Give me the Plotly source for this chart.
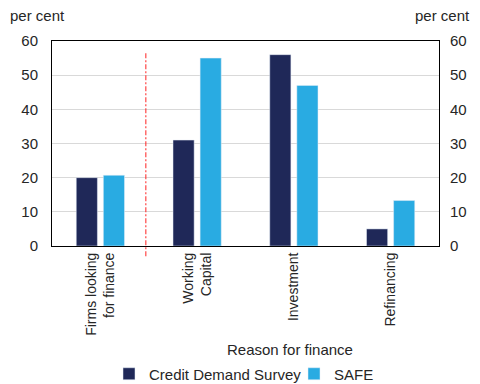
import plotly.graph_objects as go

categories = ["Firms looking<br>for finance", "Working<br>Capital", "Investment", "Refinancing"]
cds = [20, 31, 56, 5]
safe = [20.7, 55, 47, 13.3]
y_ticks = [0, 10, 20, 30, 40, 50, 60]

FONT = "Liberation Sans, Arial, sans-serif"
TXT = "#262626"
OFF = 8  # page body margin
W, H = 480 - OFF, 384 - OFF
fig = go.Figure()
fig.add_trace(go.Bar(x=categories, y=cds, name="Credit Demand Survey", marker_color="#1F2858"))
fig.add_trace(go.Bar(x=categories, y=safe, name="SAFE", marker_color="#29ABE2"))
fig.add_trace(go.Scatter(x=categories, y=[None]*4, yaxis="y2", showlegend=False, hoverinfo="skip"))

fig.add_shape(type="line", xref="x", yref="paper", x0=0.47, x1=0.47, y0=-0.05, y1=0.946,
              line=dict(color="#FF2020", width=1, dash="5px,2px,2px,2px"))

fig.add_annotation(text="per cent", xref="paper", yref="paper", x=(8-52)/387, y=(246-16)/205,
                   xanchor="left", yanchor="middle", showarrow=False, font=dict(size=15, color=TXT))
fig.add_annotation(text="per cent", xref="paper", yref="paper", x=(472-52)/387, y=(246-16)/205,
                   xanchor="right", yanchor="middle", showarrow=False, font=dict(size=15, color=TXT))
fig.add_annotation(text="Reason for finance", xref="paper", yref="paper", x=(290-52)/387, y=-(349-246)/205,
                   xanchor="center", yanchor="middle", showarrow=False, font=dict(size=15, color=TXT))

fig.update_layout(
    width=W, height=H,
    margin=dict(l=52-OFF, r=W-(439-OFF), t=41-OFF, b=H-(246-OFF), autoexpand=False),
    paper_bgcolor="white", plot_bgcolor="white",
    font=dict(family=FONT, size=15, color=TXT),
    barmode="group", bargap=0.44, bargroupgap=0.22,
    showlegend=True,
    legend=dict(orientation="h", xref="paper", x=(109-52)/387, xanchor="left",
                yref="container", y=(384-374)/H, yanchor="middle",
                font=dict(size=15), itemwidth=30, tracegroupgap=0, bgcolor="rgba(0,0,0,0)",
                entrywidth=140, entrywidthmode="pixels"),
    xaxis=dict(showline=True, linecolor="black", linewidth=1, mirror=True, tickangle=-90,
               ticks="", showgrid=False, tickfont=dict(size=14)),
    yaxis=dict(range=[0, 60], tickvals=y_ticks, showline=True, linecolor="black", linewidth=1,
               mirror=True, showgrid=True, gridcolor="#D9D9D9", gridwidth=1, ticks="",
               ticklabelstandoff=10, zeroline=False, tickfont=dict(size=15)),
    yaxis2=dict(range=[0, 60], tickvals=y_ticks, overlaying="y", side="right", showgrid=False,
                ticks="", ticklabelstandoff=10, zeroline=False, tickfont=dict(size=15)),
)

fig.write_html("out.html")
